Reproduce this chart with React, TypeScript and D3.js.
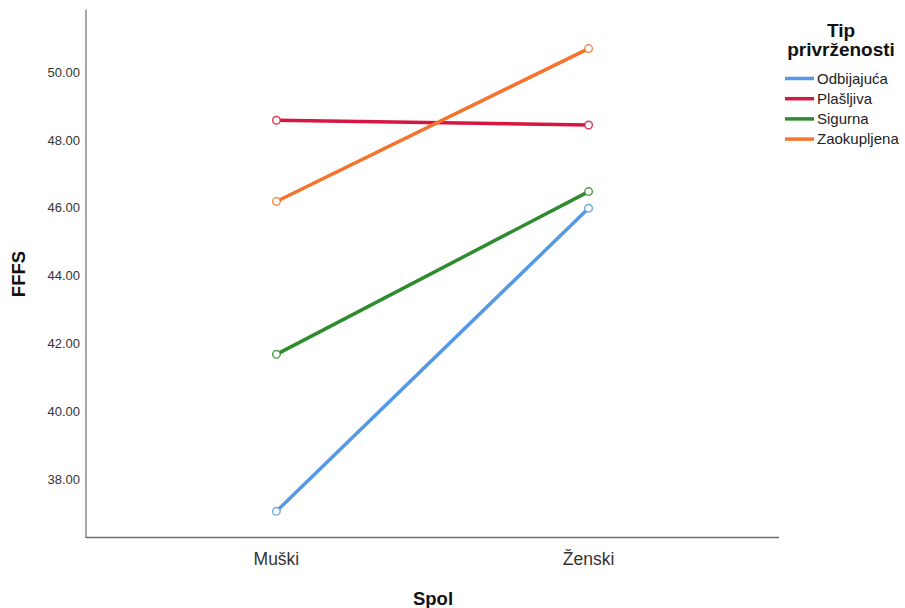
import { useEffect, useRef } from 'react'
import * as d3 from 'd3'

const categories = ['Muški', 'Ženski']
const seriesNames = ['Odbijajuća', 'Plašljiva', 'Sigurna', 'Zaokupljena']
const seriesColors = ['#5598e6', '#d6163f', '#2e8b2e', '#f5732c']
const odbijajuca = [37.07, 45.99]
const plasljiva = [48.58, 48.44]
const sigurna = [41.69, 46.48]
const zaokupljena = [46.19, 50.69]
const yTicks = [38, 40, 42, 44, 46, 48, 50]

const FONT = 'Liberation Sans, Arial, sans-serif'

export default function App() {
  const svgRef = useRef<SVGSVGElement>(null)

  useEffect(() => {
    if (!svgRef.current) return
    const svg = d3.select(svgRef.current)
    svg.selectAll('*').remove()

    const left = 86
    const right = 779
    const top = 9.5
    const bottom = 537.5

    const x = d3.scalePoint<string>().domain(categories).range([left, right]).padding(0.61)
    const y = d3.scaleLinear().domain([36.3, 51.84]).range([bottom, top])

    const series = [odbijajuca, plasljiva, sigurna, zaokupljena].map((values, i) => ({
      name: seriesNames[i],
      color: seriesColors[i],
      points: values.map((v, j) => ({ cat: categories[j], v }))
    }))

    // axes (plain lines, no tick marks)
    svg.append('line')
      .attr('x1', left).attr('x2', left)
      .attr('y1', top).attr('y2', bottom + 0.5)
      .attr('stroke', '#8a8a8a').attr('stroke-width', 1.5)
    svg.append('line')
      .attr('x1', left).attr('x2', right)
      .attr('y1', bottom).attr('y2', bottom)
      .attr('stroke', '#6e6e6e').attr('stroke-width', 1.5)

    svg.append('g')
      .selectAll('text')
      .data(yTicks)
      .enter().append('text')
      .attr('x', left - 6)
      .attr('y', d => y(d))
      .attr('dy', '0.35em')
      .attr('text-anchor', 'end')
      .style('font-family', FONT)
      .style('font-size', '13px')
      .style('fill', '#333')
      .text(d => d.toFixed(2))

    svg.append('g')
      .selectAll('text')
      .data(categories)
      .enter().append('text')
      .attr('x', d => x(d) as number)
      .attr('y', 565)
      .attr('text-anchor', 'middle')
      .style('font-family', FONT)
      .style('font-size', '17.5px')
      .style('fill', '#333')
      .text(d => d)

    svg.append('text')
      .attr('x', 433)
      .attr('y', 605)
      .attr('text-anchor', 'middle')
      .style('font-family', FONT)
      .style('font-size', '18.5px')
      .style('font-weight', 'bold')
      .style('fill', '#111')
      .text('Spol')

    svg.append('text')
      .attr('transform', `translate(24.5,274) rotate(-90)`)
      .attr('text-anchor', 'middle')
      .style('font-family', FONT)
      .style('font-size', '18.5px')
      .style('font-weight', 'bold')
      .style('fill', '#111')
      .text('FFFS')

    const line = d3.line<{ cat: string; v: number }>()
      .x(d => x(d.cat) as number)
      .y(d => y(d.v))

    const g = svg.append('g')
    series.forEach(s => {
      g.append('path')
        .attr('d', line(s.points))
        .attr('fill', 'none')
        .attr('stroke', s.color)
        .attr('stroke-width', 3.5)
    })
    series.forEach(s => {
      g.selectAll(null)
        .data(s.points)
        .enter().append('circle')
        .attr('cx', d => x(d.cat) as number)
        .attr('cy', d => y(d.v))
        .attr('r', 3.8)
        .attr('fill', 'white')
        .attr('stroke', s.color)
        .attr('stroke-width', 1.4)
        .attr('stroke-opacity', 0.85)
    })

    // Legend
    const lg = svg.append('g')
    lg.append('text')
      .attr('x', 841).attr('y', 37)
      .attr('text-anchor', 'middle')
      .style('font-family', FONT).style('font-size', '19px').style('font-weight', 'bold').style('fill', '#111')
      .text('Tip')
    lg.append('text')
      .attr('x', 841).attr('y', 56)
      .attr('text-anchor', 'middle')
      .style('font-family', FONT).style('font-size', '19px').style('font-weight', 'bold').style('fill', '#111')
      .text('privrženosti')

    const items = lg.selectAll('g.item')
      .data(series)
      .enter().append('g')
      .attr('class', 'item')
      .attr('transform', (_, i) => `translate(0,${78.5 + i * 20.2})`)
    items.append('line')
      .attr('x1', 785).attr('x2', 814)
      .attr('y1', 0).attr('y2', 0)
      .attr('stroke', d => d.color)
      .attr('stroke-width', 3.5)
    items.append('text')
      .attr('x', 817).attr('y', 0)
      .attr('dy', '0.35em')
      .style('font-family', FONT).style('font-size', '15px').style('fill', '#222')
      .text(d => d.name)
  }, [])

  return (
    <svg
      ref={svgRef}
      width={905}
      height={608}
      style={{ position: 'absolute', left: 0, top: 0, background: 'white' }}
    />
  )
}
